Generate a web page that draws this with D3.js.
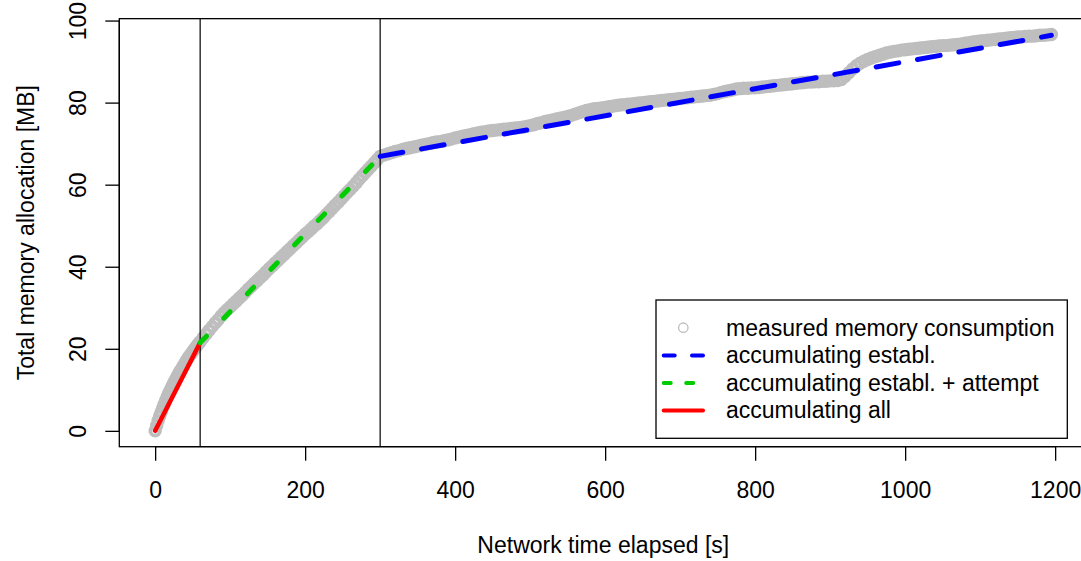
<!DOCTYPE html>
<html>
<head>
<meta charset="utf-8">
<script src="https://cdn.jsdelivr.net/npm/d3@7"></script>
<style>
  html, body { margin: 0; padding: 0; background: #fff; }
  svg { display: block; font-family: "Liberation Sans", Arial, Helvetica, sans-serif; }
</style>
</head>
<body>
<svg id="chart" width="1081" height="561"></svg>
<script>
// Sample times of the memory measurements [s]: finer sampling while memory grows fast
const elapsedStartup = d3.range(0, 60, 2);
const elapsedAttempt = d3.range(60, 300, 4);
const elapsedEstabl = d3.range(300, 1200, 5);

// Measured total memory allocation [MB] for each of the sample times above
const measuredStartup = [
  0.0, 1.3, 2.5, 3.6, 4.6, 5.6, 6.5, 7.4, 8.3, 9.1,
  9.9, 10.7, 11.4, 12.1, 12.8, 13.5, 14.2, 14.8, 15.4, 16.0,
  16.6, 17.2, 17.8, 18.3, 18.8, 19.3, 19.8, 20.3, 20.8, 21.3
];
const measuredAttempt = [
  21.7, 22.7, 23.6, 24.5, 25.4, 26.3, 27.1, 28.0, 28.8, 29.5,
  30.2, 30.9, 31.6, 32.3, 33.0, 33.7, 34.5, 35.2, 35.9, 36.6,
  37.3, 38.0, 38.8, 39.5, 40.2, 40.9, 41.6, 42.3, 43.0, 43.7,
  44.4, 45.1, 45.8, 46.5, 47.2, 47.9, 48.5, 49.2, 49.9, 50.5,
  51.2, 51.9, 52.7, 53.4, 54.2, 55.0, 55.7, 56.5, 57.3, 58.1,
  58.8, 59.6, 60.4, 61.3, 62.1, 62.9, 63.7, 64.5, 65.3, 66.1
];
const measuredEstabl = [
  // 300 - 595 s
  66.9, 67.2, 67.5, 67.8, 68.1, 68.3, 68.6, 68.8, 69.0, 69.2, 69.4, 69.6,
  69.8, 70.0, 70.2, 70.4, 70.5, 70.7, 70.9, 71.1, 71.4, 71.6, 71.8, 72.0,
  72.2, 72.4, 72.6, 72.8, 72.9, 73.1, 73.2, 73.3, 73.4, 73.5, 73.6, 73.7,
  73.8, 73.9, 74.0, 74.2, 74.4, 74.6, 74.9, 75.1, 75.4, 75.6, 75.8, 76.0,
  76.2, 76.4, 76.6, 76.9, 77.2, 77.5, 77.8, 78.1, 78.3, 78.5, 78.6, 78.7,
  // 600 - 895 s
  78.8, 79.0, 79.1, 79.3, 79.4, 79.5, 79.6, 79.7, 79.8, 79.9, 80.0, 80.1,
  80.2, 80.3, 80.4, 80.5, 80.6, 80.7, 80.8, 80.9, 81.0, 81.1, 81.2, 81.3,
  81.4, 81.5, 81.6, 81.7, 81.8, 82.0, 82.2, 82.5, 82.7, 82.9, 83.1, 83.3,
  83.4, 83.5, 83.5, 83.6, 83.6, 83.7, 83.8, 83.9, 84.0, 84.1, 84.2, 84.3,
  84.4, 84.5, 84.6, 84.7, 84.8, 84.9, 85.0, 85.0, 85.1, 85.1, 85.2, 85.2,
  // 900 - 1195 s
  85.3, 85.3, 85.4, 85.6, 86.4, 87.3, 88.2, 89.0, 89.6, 90.1, 90.5, 90.9,
  91.2, 91.5, 91.8, 92.1, 92.3, 92.5, 92.6, 92.8, 92.9, 93.0, 93.1, 93.2,
  93.3, 93.4, 93.5, 93.6, 93.7, 93.8, 93.9, 93.9, 94.0, 94.1, 94.2, 94.3,
  94.5, 94.6, 94.8, 94.9, 95.0, 95.1, 95.2, 95.3, 95.4, 95.5, 95.6, 95.7,
  95.8, 95.9, 96.0, 96.0, 96.1, 96.2, 96.2, 96.3, 96.4, 96.4, 96.5, 96.6
];

// Model lines: accumulating all / establ. + attempt / establ.
const allTime = [0, 60];
const allMB = [0, 21.5];
const attemptTime = [60, 300];
const attemptMB = [21.5, 66.9];
const establTime = [300, 1195];
const establMB = [66.9, 96.4];

// Phase boundaries [s]
const phaseMarks = [60, 300];

// Axis ticks
const xTicks = [0, 200, 400, 600, 800, 1000, 1200];
const yTicks = [0, 20, 40, 60, 80, 100];

// Legend entries
const legendLabels = [
  "measured memory consumption",
  "accumulating establ.",
  "accumulating establ. + attempt",
  "accumulating all"
];

const elapsed = elapsedStartup.concat(elapsedAttempt, elapsedEstabl);
const measuredMB = measuredStartup.concat(measuredAttempt, measuredEstabl);

const svg = d3.select("#chart");
svg.append("rect").attr("width", 1081).attr("height", 561).attr("fill", "#fff");

const FONT = 23;
const plot = { left: 119.3, right: 1087.25, top: 18.65, bottom: 446.7 };

// 4% padding on both ends of each data range
function padded(lo, hi) { const p = (hi - lo) * 0.04; return [lo - p, hi + p]; }
const x = d3.scaleLinear().domain(padded(0, d3.max(elapsed))).range([plot.left, plot.right]);
const y = d3.scaleLinear().domain(padded(0, d3.max(measuredMB))).range([plot.bottom, plot.top]);

svg.append("clipPath").attr("id", "plotclip")
  .append("rect")
  .attr("x", plot.left).attr("y", plot.top)
  .attr("width", plot.right - plot.left).attr("height", plot.bottom - plot.top);

const inner = svg.append("g").attr("clip-path", "url(#plotclip)");

// Measured points
const samples = elapsed.map((t, i) => ({ t, m: measuredMB[i] }));
inner.append("g")
  .selectAll("circle")
  .data(samples)
  .join("circle")
  .attr("cx", d => x(d.t))
  .attr("cy", d => y(d.m))
  .attr("r", 4.8)
  .attr("fill", "none")
  .attr("stroke", "#bebebe")
  .attr("stroke-width", 3.8);

// Phase boundaries
inner.append("g")
  .selectAll("line")
  .data(phaseMarks)
  .join("line")
  .attr("x1", d => x(d)).attr("x2", d => x(d))
  .attr("y1", plot.top).attr("y2", plot.bottom)
  .attr("stroke", "#000").attr("stroke-width", 1.2);

// Model lines
const lineGen = d3.line().x(d => x(d[0])).y(d => y(d[1]));
function segment(times, vals) { return times.map((t, i) => [t, vals[i]]); }

inner.append("path")
  .attr("d", lineGen(segment(allTime, allMB)))
  .attr("fill", "none").attr("stroke", "#ff0000")
  .attr("stroke-width", 4.5).attr("stroke-linecap", "round");

inner.append("path")
  .attr("d", lineGen(segment(attemptTime, attemptMB)))
  .attr("fill", "none").attr("stroke", "#00cd00")
  .attr("stroke-width", 5).attr("stroke-linecap", "round")
  .attr("stroke-dasharray", "9,25");

inner.append("path")
  .attr("d", lineGen(segment(establTime, establMB)))
  .attr("fill", "none").attr("stroke", "#0000ff")
  .attr("stroke-width", 5).attr("stroke-linecap", "round")
  .attr("stroke-dasharray", "23,19");

// Plot frame
svg.append("rect")
  .attr("x", plot.left).attr("y", plot.top)
  .attr("width", plot.right - plot.left).attr("height", plot.bottom - plot.top)
  .attr("fill", "none").attr("stroke", "#000").attr("stroke-width", 1.3);

// X axis
const xAxis = svg.append("g")
  .attr("transform", `translate(0,${plot.bottom})`)
  .call(d3.axisBottom(x).tickValues(xTicks).tickSize(14).tickSizeOuter(0).tickFormat(d3.format("d")));
xAxis.select(".domain").remove();
xAxis.append("line")
  .attr("x1", x(xTicks[0])).attr("x2", x(xTicks[xTicks.length - 1]))
  .attr("stroke", "#000").attr("stroke-width", 1.3);
xAxis.selectAll(".tick line").attr("stroke", "#000").attr("stroke-width", 1.3);
xAxis.selectAll(".tick text")
  .attr("y", 51.6).attr("dy", null)
  .attr("font-size", FONT).attr("font-family", null).attr("fill", "#000");

// Y axis
const yAxis = svg.append("g")
  .attr("transform", `translate(${plot.left},0)`)
  .call(d3.axisLeft(y).tickValues(yTicks).tickSize(14).tickSizeOuter(0).tickFormat(d3.format("d")));
yAxis.select(".domain").remove();
yAxis.append("line")
  .attr("y1", y(yTicks[0])).attr("y2", y(yTicks[yTicks.length - 1]))
  .attr("stroke", "#000").attr("stroke-width", 1.3);
yAxis.selectAll(".tick line").attr("stroke", "#000").attr("stroke-width", 1.3);
yAxis.selectAll(".tick text")
  .attr("x", null).attr("dy", null)
  .attr("transform", "translate(-33.3,0) rotate(-90)")
  .attr("text-anchor", "middle")
  .attr("font-size", FONT).attr("font-family", null).attr("fill", "#000");

// Axis titles
svg.append("text")
  .attr("x", (plot.left + plot.right) / 2).attr("y", 553.3)
  .attr("text-anchor", "middle").attr("font-size", FONT)
  .text("Network time elapsed [s]");

svg.append("text")
  .attr("transform", `translate(33.5,${(plot.top + plot.bottom) / 2}) rotate(-90)`)
  .attr("text-anchor", "middle").attr("font-size", FONT)
  .text("Total memory allocation [MB]");

// Legend
const legend = svg.append("g");
legend.append("rect")
  .attr("x", 656).attr("y", 300).attr("width", 411.3).attr("height", 138.3)
  .attr("fill", "#fff").attr("stroke", "#000").attr("stroke-width", 1.3);

const rowBase = [335.7, 363.3, 390.8, 418.3];
legend.selectAll("text.lab")
  .data(legendLabels)
  .join("text")
  .attr("class", "lab")
  .attr("x", 726).attr("y", (d, i) => rowBase[i])
  .attr("font-size", FONT)
  .text(d => d);

legend.append("circle")
  .attr("cx", 683.3).attr("cy", rowBase[0] - 8)
  .attr("r", 4.7).attr("fill", "none")
  .attr("stroke", "#bebebe").attr("stroke-width", 1.3);

const legendLines = [
  { row: 1, color: "#0000ff", dash: "11,17.3" },
  { row: 2, color: "#00cd00", dash: "7,15.5" },
  { row: 3, color: "#ff0000", dash: null }
];
legend.selectAll("line.key")
  .data(legendLines)
  .join("line")
  .attr("class", "key")
  .attr("x1", 663.7).attr("x2", 703)
  .attr("y1", d => rowBase[d.row] - 7.7).attr("y2", d => rowBase[d.row] - 7.7)
  .attr("stroke", d => d.color).attr("stroke-width", 4)
  .attr("stroke-linecap", "round")
  .attr("stroke-dasharray", d => d.dash);
</script>
</body>
</html>
